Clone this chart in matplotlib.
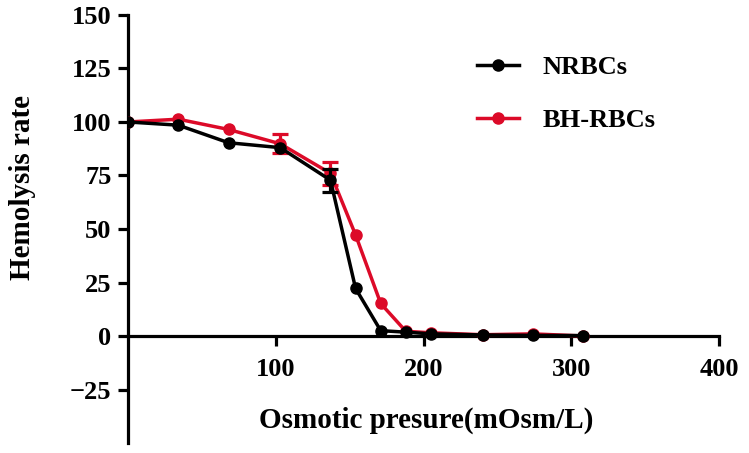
import numpy as np
import matplotlib
matplotlib.use('Agg')
import matplotlib.pyplot as plt
from matplotlib.lines import Line2D

# datos
osm = [0, 34, 68, 103, 137, 154, 171, 188, 205, 240, 274, 308]
nrbc = [100, 98.5, 90.3, 88, 72.8, 22.2, 2.5, 1.8, 1.0, 0.5, 0.3, 0.2]
nrbc_err = [np.nan, np.nan, np.nan, np.nan, 5.4, np.nan, np.nan, np.nan, np.nan, np.nan, np.nan, np.nan]
bh = [100, 101.3, 96.5, 89.8, 76.0, 47.2, 15.2, 2.2, 1.5, 0.6, 1.0, 0.0]
bh_err = [np.nan, np.nan, np.nan, 4.5, 5.5, np.nan, np.nan, np.nan, np.nan, np.nan, np.nan, np.nan]

rojo = '#dc0a28'
plt.rcParams['font.family'] = ['Liberation Serif', 'DejaVu Serif']
plt.rcParams['font.weight'] = 'bold'

fig = plt.figure(figsize=(7.49, 4.53), dpi=100)
ax = fig.add_axes([0.171, 0.022, 0.789, 0.945])

ax.errorbar(osm, bh, yerr=bh_err, color=rojo, marker='o', ms=8, lw=2.5,
            capsize=5.5, capthick=2.3, elinewidth=2.3, zorder=3)
ax.errorbar(osm, nrbc, yerr=nrbc_err, color='black', marker='o', ms=8, lw=2.5,
            capsize=5.5, capthick=2.3, elinewidth=2.3, zorder=4)

ax.set_xlim(0, 400)
ax.set_ylim(-50, 150)
ax.set_xticks([100, 200, 300, 400])
ax.set_yticks([-25, 0, 25, 50, 75, 100, 125, 150])

ax.spines['left'].set_position(('data', 0))
ax.spines['bottom'].set_position(('data', 0))
ax.spines['top'].set_visible(False)
ax.spines['right'].set_visible(False)
for s in ['left', 'bottom']:
    ax.spines[s].set_linewidth(2.3)
ax.tick_params(width=2.3, length=7, labelsize=19, direction='out')
ax.tick_params(axis='x', pad=9)
ax.tick_params(axis='y', pad=5)
for t in ax.get_xticklabels() + ax.get_yticklabels():
    t.set_fontweight('bold')

fig.text(0.569, 0.073, 'Osmotic presure(mOsm/L)', ha='center', va='center',
         fontsize=21, fontweight='bold')
fig.text(0.03, 0.587, 'Hemolysis rate', ha='center', va='center', rotation=90,
         fontsize=21, fontweight='bold')

h1 = Line2D([], [], color='black', marker='o', ms=8, lw=2.5)
h2 = Line2D([], [], color=rojo, marker='o', ms=8, lw=2.5)
ax.legend([h1, h2], ['NRBCs', 'BH-RBCs'], frameon=False, fontsize=19,
          loc='upper left', bbox_to_anchor=(0.55, 0.96), handlelength=1.6,
          labelspacing=1.1, handletextpad=0.9)

fig.savefig('out.png', dpi=100)
